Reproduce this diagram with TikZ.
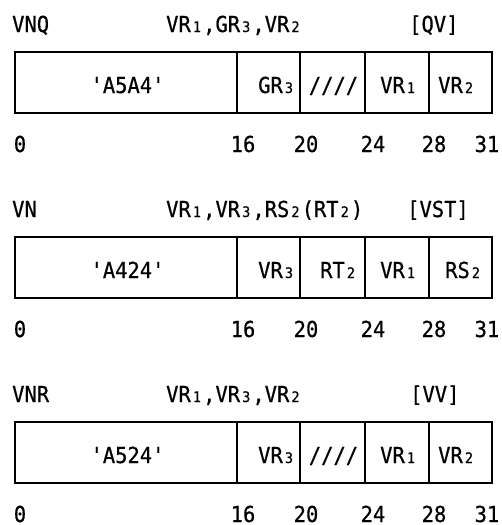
\documentclass[tikz,border=0pt]{standalone}
\usepackage{fontspec}
\newfontfamily\monofont[FakeStretch=0.93,FakeBold=0.6]{DejaVu Sans Mono}
\newcommand{\sbd}[1]{\makebox[\fontcharwd\font`0][c]{\fontsize{14.5}{14.5}\selectfont #1}}
\tikzset{
  txt/.style={inner sep=0pt, font=\monofont\fontsize{22}{24}\selectfont},
  title/.style={txt, anchor=base west},
  num/.style={txt, anchor=base, text depth=0pt},
  celltxt/.style={txt, anchor=base west},
  frame/.style={line width=1.5pt},
}
\begin{document}
\begin{tikzpicture}[x=1pt,y=-1pt]
\useasboundingbox (0,0) rectangle (501,525);
% ---------- row 1 ----------
\begin{scope}
  \node[title] (n1) at (12,32) {VNQ};
  \node[title] (o1) at (166,32) {VR\sbd{1},GR\sbd{3},VR\sbd{2}};
  \node[title] (f1) at (409,32) {[QV]};
  \draw[frame] (15,52) rectangle (492,113);
  \foreach \x in {237,300,365,429} \draw[frame] (\x,52) -- (\x,113);
  \node[txt, anchor=base] (c1a) at (127.5,93) {'A5A4'};
  \node[celltxt] (c1b) at (258,93) {GR\sbd{3}};
  \node[txt, anchor=base] (c1c) at (333.5,93) {////};
  \node[celltxt] (c1d) at (380,93) {VR\sbd{1}};
  \node[celltxt] (c1e) at (438,93) {VR\sbd{2}};
  \node[num] (b1a) at (20,152) {0};
  \node[num] (b1b) at (243,152) {16};
  \node[num] (b1c) at (306,152) {20};
  \node[num] (b1d) at (373,152) {24};
  \node[num] (b1e) at (434,152) {28};
  \node[num] (b1f) at (487,152) {31};
\end{scope}
% ---------- row 2 ----------
\begin{scope}[shift={(0,185)}]
  \node[title] (n2) at (12,32) {VN};
  \node[title] (o2) at (166,32) {VR\sbd{1},VR\sbd{3},RS\sbd{2}(RT\sbd{2})};
  \node[title] (f2) at (407,32) {[VST]};
  \draw[frame] (15,52) rectangle (492,113);
  \foreach \x in {237,300,365,429} \draw[frame] (\x,52) -- (\x,113);
  \node[txt, anchor=base] (c2a) at (127.5,93) {'A424'};
  \node[celltxt] (c2b) at (258,93) {VR\sbd{3}};
  \node[celltxt] (c2c) at (320,93) {RT\sbd{2}};
  \node[celltxt] (c2d) at (380,93) {VR\sbd{1}};
  \node[celltxt] (c2e) at (445,93) {RS\sbd{2}};
  \node[num] (b2a) at (20,152) {0};
  \node[num] (b2b) at (243,152) {16};
  \node[num] (b2c) at (306,152) {20};
  \node[num] (b2d) at (373,152) {24};
  \node[num] (b2e) at (434,152) {28};
  \node[num] (b2f) at (487,152) {31};
\end{scope}
% ---------- row 3 ----------
\begin{scope}[shift={(0,370)}]
  \node[title] (n3) at (12,32) {VNR};
  \node[title] (o3) at (166,32) {VR\sbd{1},VR\sbd{3},VR\sbd{2}};
  \node[title] (f3) at (410,32) {[VV]};
  \draw[frame] (15,52) rectangle (492,113);
  \foreach \x in {237,300,365,429} \draw[frame] (\x,52) -- (\x,113);
  \node[txt, anchor=base] (c3a) at (127.5,93) {'A524'};
  \node[celltxt] (c3b) at (258,93) {VR\sbd{3}};
  \node[txt, anchor=base] (c3c) at (333.5,93) {////};
  \node[celltxt] (c3d) at (380,93) {VR\sbd{1}};
  \node[celltxt] (c3e) at (438,93) {VR\sbd{2}};
  \node[num] (b3a) at (20,152) {0};
  \node[num] (b3b) at (243,152) {16};
  \node[num] (b3c) at (306,152) {20};
  \node[num] (b3d) at (373,152) {24};
  \node[num] (b3e) at (434,152) {28};
  \node[num] (b3f) at (487,152) {31};
\end{scope}
\end{tikzpicture}
\end{document}
